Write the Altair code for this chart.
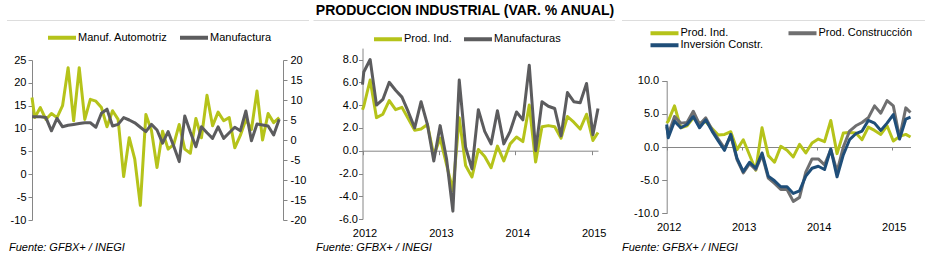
import altair as alt
import pandas as pd

TITLE = "PRODUCCION INDUSTRIAL (VAR. % ANUAL)"
FUENTE = "Fuente: GFBX+ / INEGI"

# ---------- Panel 1: months counted from Jan 2011 (=0); first value Dec 2010 ----------
p1_years = ["2011", "2012", "2013", "2014"]
p1_series = ["Manuf. Automotriz", "Manufactura"]
automotriz = [16.8,
              12.4, 14.6, 12.0, 13.3, 12.4, 15.0, 23.3, 11.7, 23.3, 12.0, 16.4, 16.0,
              14.6, 10.4, 13.9, 12.0, -0.5, 8.0, 3.3, -6.8, 13.1, 9.6, 1.5, 9.4,
              5.5, 6.5, 10.9, 5.5, 4.6, 12.2, 8.0, 17.3, 10.6, 13.6, 11.7, 12.4,
              5.8, 8.5, 12.0, 9.8, 18.2, 7.5, 13.3, 11.3, 12.4]
manufactura = [5.8,
               5.8, 5.8, 5.6, 2.3, 5.4, 3.3, 3.7, 3.9, 4.1, 4.3, 4.3, 3.2,
               6.7, 7.7, 3.5, 3.9, 5.6, 5.0, 4.3, 3.2, 2.1, 3.9, 2.5, -0.8,
               2.1, -1.5, -5.4, 6.0, 2.0, -1.7, 3.3, 1.8, 0.4, 3.3, 0.4, 1.8,
               3.2, 2.3, 7.25, -0.2, 4.0, 3.75, 3.5, 1.25, 5.2]

# ---------- Panels 2 and 3: months counted from Jan 2012 (=0); first value Dec 2011 ----------
p23_years = ["2012", "2013", "2014", "2015"]
p2_series = ["Prod. Ind.", "Manufacturas"]
p3_series = ["Prod. Ind.", "Prod. Construcción", "Inversión Constr."]
prod_ind = [3.6,
            3.9, 6.2, 2.9, 3.2, 4.4, 3.6, 3.8, 2.8, 1.8, 1.9, 2.3, -0.4,
            1.1, -1.2, -3.5, 2.9, -1.3, -2.3, 0.1, -0.5, -1.5, 0.4, -0.9, 0.6,
            1.2, 0.8, 4.0, -1.0, 2.1, 2.2, 2.1, 1.1, 3.0, 2.5, 1.9, 3.2,
            0.9, 1.6, 1.9, 1.5]
manufacturas = [5.8,
                6.9, 8.0, 4.0, 4.5, 6.0, 5.3, 4.7, 3.4, 2.0, 4.3, 2.3, -0.9,
                2.2, -0.7, -5.3, 6.2, 0.3, -1.6, 3.6, 1.7, 0.6, 3.5, 0.6, 1.7,
                3.4, 2.7, 7.5, 0.0, 4.3, 3.9, 3.7, 1.3, 5.1, 4.3, 4.2, 5.9,
                1.4, 3.7]
prod_constr = [3.1,
               1.9, 4.6, 3.6, 3.7, 5.4, 3.4, 4.4, 2.6, 1.2, -0.2, 1.7, -1.9,
               -3.9, -2.5, -3.4, -1.2, -4.7, -5.5, -6.4, -6.4, -8.2, -7.6, -3.8, -1.8,
               -1.8, -2.7, -0.4, -3.7, 0.0, 2.4, 3.2, 3.7, 4.4, 6.2, 5.1, 7.0,
               6.2, 1.4, 5.9, 5.2]
inversion_constr = [3.4,
                    1.4, 3.9, 2.9, 3.4, 4.6, 2.9, 4.1, 2.4, 0.9, -0.5, 1.9, -1.7,
                    -3.7, -2.3, -3.2, -0.9, -4.4, -5.1, -6.0, -6.0, -7.0, -6.6, -4.4, -3.2,
                    -2.9, -3.4, -0.3, -4.5, -1.2, 1.1, 2.0, 2.4, 4.0, 3.6, 2.5, 3.6,
                    4.9, 1.2, 4.2, 4.5]

# ---------- styles ----------
GREEN = "#b5c31a"
DGRAY = "#5c5c5e"
MGRAY = "#6f6f70"
BLUE = "#1f4e79"
PANEL_BG = "#d9d9d9"
AXIS_C = "#868686"
FONT = "Liberation Sans"
LW = 3


def frame(values, name):
    return pd.DataFrame({"mes": [k - 1 for k in range(len(values))],
                         "valor": values, "serie": name})


def year_expr(labels, start):
    return f"{labels}[round((datum.value - ({start})) / 12)]"


def legend(x, y, colpad):
    return alt.Legend(orient="none", legendX=x, legendY=y, direction="horizontal",
                      columns=2, title=None, symbolType="stroke", symbolSize=784,
                      symbolStrokeWidth=4, labelFont=FONT, labelFontSize=11,
                      labelColor="#000", labelOffset=0, columnPadding=colpad,
                      rowPadding=0, clipHeight=11, padding=0)


def x_enc(dom, rng, offset, labels, pad, lab_off, tick):
    ticks = [dom[0] + 12 * k for k in range(4)]
    return alt.X("mes:Q",
                 scale=alt.Scale(domain=dom, range=rng, clamp=True, nice=False, zero=False),
                 axis=alt.Axis(orient="bottom", offset=offset, values=ticks,
                               labelExpr=year_expr(labels, dom[0]), labelFlush=False,
                               labelOverlap=False, labelBound=False,
                               tickSize=tick, labelPadding=pad, labelOffset=lab_off,
                               domainColor=AXIS_C, tickColor=AXIS_C, grid=False,
                               labelFont=FONT, labelFontSize=11, labelColor="#000",
                               title=None))


def y_enc(dom, rng, orient, offset, values, tick, pad, expr):
    return alt.Y("valor:Q",
                 scale=alt.Scale(domain=dom, range=rng, nice=False, zero=False),
                 axis=alt.Axis(orient=orient, offset=offset, values=values,
                               labelExpr=expr, tickSize=tick, labelPadding=pad,
                               domainColor=AXIS_C, tickColor=AXIS_C, grid=False,
                               labelFont=FONT, labelFontSize=11, labelColor="#000",
                               title=None))


INT_EXPR = "'' + datum.value"
DEC_EXPR = "replace(format(datum.value, '.1f'), '\u2212', '-')"

one = pd.DataFrame({"k": [0]})


def gap(x0, x1, y0, y1):
    # white separation between the grey panel boxes
    return alt.Chart(one).mark_rect(color="white").encode(
        x=alt.value(x0), x2=alt.value(x1), y=alt.value(y0), y2=alt.value(y1))


def source_note(x):
    return alt.Chart(pd.DataFrame({"txt": [FUENTE]})).mark_text(
        font=FONT, fontSize=11, fontStyle="italic", align="left",
        baseline="alphabetic", color="#000").encode(
        text="txt:N", x=alt.value(x), y=alt.value(231.2))


title_mark = alt.Chart(pd.DataFrame({"txt": [TITLE]})).mark_text(
    font=FONT, fontSize=14, fontWeight="bold", align="center",
    baseline="alphabetic", color="#000").encode(
    text="txt:N", x=alt.value(465), y=alt.value(-5))

# ---------- Panel 1 ----------
p1_x = x_enc([-0.5, 44.5], [32, 282], -85.71, p1_years, 50, 3, 3)
p1_col = alt.Color("serie:N", scale=alt.Scale(domain=p1_series, range=[GREEN, DGRAY]),
                   legend=legend(46, 12.2, 10))
p1a = alt.Chart(frame(automotriz, p1_series[0])).mark_line(
    strokeWidth=LW, strokeJoin="round").encode(
    x=p1_x,
    y=y_enc([-10, 25], [200, 40], "left", -32, list(range(-10, 30, 5)), 4, 2, INT_EXPR),
    color=p1_col)
p1b = alt.Chart(frame(manufactura, p1_series[1])).mark_line(
    strokeWidth=LW, strokeJoin="round").encode(
    x=alt.X("mes:Q", axis=None),
    y=y_enc([-20, 20], [200, 40], "right", -647, list(range(-20, 25, 5)), 4, 3, INT_EXPR),
    color=p1_col)
panel1 = alt.layer(p1a, p1b).resolve_scale(y="independent")

# ---------- Panel 2 ----------
d2 = pd.concat([frame(prod_ind, p2_series[0]).query("mes <= 37"),
                frame(manufacturas, p2_series[1])])
panel2 = alt.Chart(d2).mark_line(strokeWidth=LW, strokeJoin="round").encode(
    x=x_enc([-0.2, 36.8], [362.5, 598], -109.3, p23_years, 73, 2, 4),
    y=y_enc([-6, 9], [199.1, 28.1], "left", -362.5, list(range(-6, 10, 2)), 4, 1, DEC_EXPR),
    color=alt.Color("serie:N", scale=alt.Scale(domain=p2_series, range=[GREEN, DGRAY]),
                    legend=legend(372, 13.8, 10)))

# ---------- Panel 3 ----------
d3 = pd.concat([frame(prod_ind, p3_series[0]),
                frame(prod_constr, p3_series[1]),
                frame(inversion_constr, p3_series[2])])
panel3 = alt.Chart(d3).mark_line(strokeWidth=LW, strokeJoin="round").encode(
    x=x_enc([-0.25, 38.75], [666.7, 910.5], -113, p23_years, 71, 2, 3),
    y=y_enc([-10, 10], [193.3, 60.7], "left", -666.7, [-10, -5, 0, 5, 10], 5, 3, DEC_EXPR),
    color=alt.Color("serie:N", scale=alt.Scale(domain=p3_series, range=[GREEN, MGRAY, BLUE]),
                    legend=legend(648.5, 7.8, 23)))

chart = alt.layer(
    panel1, panel2, panel3,
    gap(0, 7, 0, 240), gap(309, 313.5, 0, 240), gap(615, 622, 0, 240),
    gap(925, 930, 0, 240), gap(0, 930, 220, 240),
    source_note(9), source_note(316), source_note(622), title_mark
).resolve_scale(
    x="independent", y="independent", color="independent"
).properties(
    width=930, height=240,
    padding={"left": 0, "right": 0, "top": 20, "bottom": 0},
    autosize=alt.AutoSizeParams(type="none"),
).configure_view(strokeWidth=0, fill=PANEL_BG).configure(background="white")

chart.save("out.html", embed_options={"renderer": "svg", "actions": False})
